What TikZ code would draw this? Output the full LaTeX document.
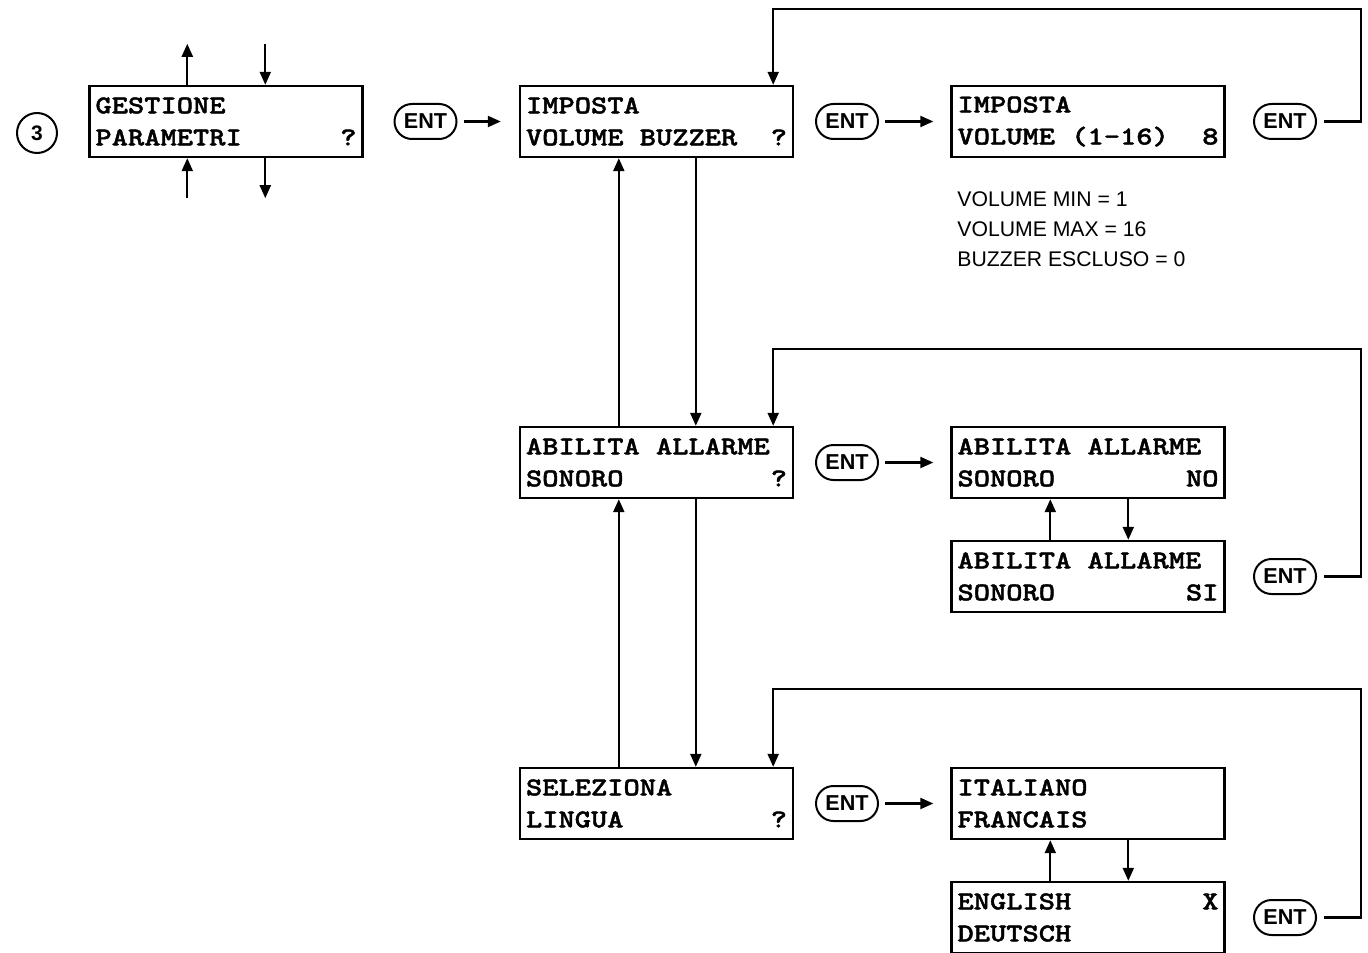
\documentclass[tikz,border=0pt]{standalone}
\usepackage{fontspec}
\usepackage{tikz}
\usetikzlibrary{arrows.meta}
\usetikzlibrary{shapes.misc}
\usetikzlibrary{positioning}
\newfontfamily\lcdfont[FakeStretch=1.2, FakeBold=1.6]{lmmonolt10-bold.otf}
\newcommand{\lcdsize}{\lcdfont\fontsize{12.9pt}{16pt}\selectfont}
% one blank cell of the display
\newcommand{\lcdgap}{\hskip\fontcharwd\font`M\relax}
\newfontfamily\keyfont{Liberation Sans}
\newfontfamily\notefont{Liberation Sans}
\tikzstyle{display}=[draw, line width=1.2pt, minimum width=136.5pt, minimum height=35.5pt,
                     inner xsep=3pt, inner ysep=0, text width=130.5pt, align=left, font=\lcdsize]
\tikzstyle{enterkey}=[draw, line width=1pt, rounded rectangle, minimum width=31pt, minimum height=17.5pt,
                      inner sep=0, font=\keyfont\bfseries\fontsize{10.8pt}{12pt}\selectfont]
\tikzstyle{stepno}=[draw, circle, line width=1pt, minimum size=20pt, inner sep=0,
                    font=\keyfont\bfseries\fontsize{10.5pt}{12pt}\selectfont]
\tikzstyle{note}=[inner sep=0, anchor=west, font=\notefont\fontsize{10.6pt}{12pt}\selectfont]
\tikzstyle{flow}=[line width=1.1pt, -{Triangle[length=6.5pt, width=5.5pt]}]

\begin{document}
\begin{tikzpicture}[x=0.5pt, y=-0.5pt]
        \useasboundingbox (0,0) rectangle (1368,952);
        % menu step
        \node[stepno]   (S3) at (37,133)      {3};
        \node[display]  (D1) at (226,121.5)   {GESTIONE\\PARAMETRI\hfill ?};
        \draw[flow] ([xshift=49.5pt]D1.north west) -- ++(0,20.5pt);
        \draw[flow] ([xshift=88.5pt,yshift=20.5pt]D1.north west) -- ([xshift=88.5pt]D1.north west);
        \draw[flow] ([xshift=49.5pt,yshift=-20pt]D1.south west) -- ([xshift=49.5pt]D1.south west);
        \draw[flow] ([xshift=88.5pt]D1.south west) -- ++(0,-20pt);
        \node[enterkey] (E1) at (425.5,121.5) {ENT};
        % left column
        \node[display]  (D2) at (656.5,121.5) {IMPOSTA\\VOLUME\lcdgap BUZZER\hfill ?};
        \node[display]  (D4) at (656.5,462.5) {ABILITA\lcdgap ALLARME\\SONORO\hfill ?};
        \node[display]  (D7) at (656.5,803.5) {SELEZIONA\\LINGUA\hfill ?};
        \draw[flow] ([xshift=3pt]E1.east) -- ([xshift=-9pt]D2.west);
        \draw[flow] ([xshift=50pt]D4.north west) -- ([xshift=50pt]D2.south west);
        \draw[flow] ([xshift=88.5pt]D2.south west) -- ([xshift=88.5pt]D4.north west);
        \draw[flow] ([xshift=50pt]D7.north west) -- ([xshift=50pt]D4.south west);
        \draw[flow] ([xshift=88.5pt]D4.south west) -- ([xshift=88.5pt]D7.north west);
        % ENT keys
        \node[enterkey] (E2) at (847,121.5)   {ENT};
        \node[enterkey] (E3) at (1285,121.5)  {ENT};
        \node[enterkey] (E4) at (847,462.5)   {ENT};
        \node[enterkey] (E5) at (1285,576.5)  {ENT};
        \node[enterkey] (E6) at (847,803.5)   {ENT};
        \node[enterkey] (E7) at (1285,917.5)  {ENT};
        % right column
        \node[display]  (D3) at (1088,121.5)  {IMPOSTA\\VOLUME\lcdgap (1-16)\hfill 8};
        \node[note]     (N1) at (957,199)     {VOLUME MIN = 1};
        \node[note]     (N2) at (957,229)     {VOLUME MAX = 16};
        \node[note]     (N3) at (957,259)     {BUZZER ESCLUSO = 0};
        \node[display]  (D5) at (1088,462.5)  {ABILITA\lcdgap ALLARME\\SONORO\hfill NO};
        \node[display]  (D6) at (1088,576.5)  {ABILITA\lcdgap ALLARME\\SONORO\hfill SI};
        \node[display]  (D8) at (1088,803.5)  {ITALIANO\\FRANCAIS};
        \node[display]  (D9) at (1088,917.5)  {ENGLISH\hfill X\\DEUTSCH};
        \draw[flow] ([xshift=3pt]E2.east) -- ([xshift=-8.5pt]D3.west);
        \draw[flow] ([xshift=3pt]E4.east) -- ([xshift=-8.5pt]D5.west);
        \draw[flow] ([xshift=3pt]E6.east) -- ([xshift=-8.5pt]D8.west);
        \draw[flow] ([xshift=50pt]D6.north west) -- ([xshift=50pt]D5.south west);
        \draw[flow] ([xshift=89pt]D5.south west) -- ([xshift=89pt]D6.north west);
        \draw[flow] ([xshift=50pt]D9.north west) -- ([xshift=50pt]D8.south west);
        \draw[flow] ([xshift=89pt]D8.south west) -- ([xshift=89pt]D9.north west);
        % back to the menu
        \draw[flow] ([xshift=3.5pt]E3.east) -- ++(18.5pt,0) |- ([xshift=-10.5pt,yshift=38pt]D2.north east) -- ([xshift=-10.5pt]D2.north east);
        \draw[flow] ([xshift=3.5pt]E5.east) -- ++(18.5pt,0) |- ([xshift=-10.5pt,yshift=38.5pt]D4.north east) -- ([xshift=-10.5pt]D4.north east);
        \draw[flow] ([xshift=3.5pt]E7.east) -- ++(18.5pt,0) |- ([xshift=-10.5pt,yshift=39pt]D7.north east) -- ([xshift=-10.5pt]D7.north east);
\end{tikzpicture}
\end{document}
